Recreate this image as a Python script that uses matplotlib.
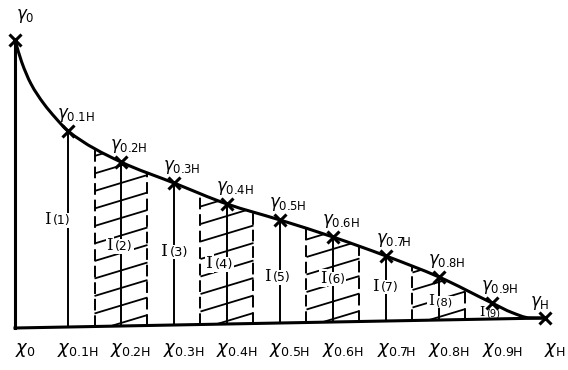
import numpy as np
import matplotlib
matplotlib.use("Agg")
import matplotlib.pyplot as plt
from matplotlib.path import Path
from matplotlib.patches import PathPatch
from matplotlib.collections import LineCollection
from matplotlib.transforms import Affine2D

plt.rcParams["mathtext.fontset"] = "dejavusans"

# Sections along the flow path (fraction of H) and their names
x_pos = [0.0, 0.1, 0.2, 0.3, 0.4, 0.5, 0.6, 0.7, 0.8, 0.9, 1.0]
x_names = ["0", "0.1H", "0.2H", "0.3H", "0.4H", "0.5H",
           "0.6H", "0.7H", "0.8H", "0.9H", "H"]
# Ordinate of the distribution curve at each section
gamma_vals = [288, 196, 164, 142, 120, 103, 85, 65, 43, 16, 0]

# Additional points on the steep head and the flat tail of the curve
head_x = [0.0125, 0.030, 0.054, 0.077]
head_y = [266, 244, 224, 209]
tail_x = [0.938, 0.97]
tail_y = [6, 0.5]

# Strip labels I(1) ... I(9)
strip_ids = ["(1)", "(2)", "(3)", "(4)", "(5)", "(6)", "(7)", "(8)", "(9)"]
strip_label_x = [0.070, 0.187, 0.290, 0.375, 0.485, 0.589, 0.689, 0.792, 0.887]
strip_label_y = [108, 81, 74, 61, 47, 44, 35, 19, 7]
strip_label_size = [12, 12, 12.5, 12.5, 12, 11.5, 12, 11, 9.5]
hatched_strips = [2, 4, 6, 8]

STEP = 0.1          # strip width
TILT = 10           # the base line rises slightly to the right
HATCH_SLOPE = 150
HATCH_GAP = 17.5
INK = "black"

fig = plt.figure(figsize=(5.68, 3.70), dpi=100)
ax = fig.add_axes([0, 0, 1, 1])
ax.set_xlim(-15 / 530, 553 / 530)
ax.set_ylim(-42, 328)
ax.axis("off")

tr = Affine2D(np.array([[1.0, 0.0, 0.0], [TILT, 1.0, 0.0], [0.0, 0.0, 1.0]])) + ax.transData


def monotone_slopes(x, y):
    x = np.asarray(x, float)
    y = np.asarray(y, float)
    h = np.diff(x)
    d = np.diff(y) / h
    m = np.zeros_like(y)
    m[0], m[-1] = d[0], d[-1]
    for i in range(1, len(y) - 1):
        if d[i - 1] * d[i] <= 0:
            m[i] = 0.0
        else:
            w1 = 2 * h[i] + h[i - 1]
            w2 = h[i] + 2 * h[i - 1]
            m[i] = (w1 + w2) / (w1 / d[i - 1] + w2 / d[i])
    return m


# curve nodes
nodes = sorted(zip(x_pos + head_x + tail_x, gamma_vals + head_y + tail_y))
cx = np.array([p[0] for p in nodes])
cy = np.array([p[1] for p in nodes])
slopes = monotone_slopes(cx, cy)

verts = [(cx[0], cy[0])]
codes = [Path.MOVETO]
for i in range(len(cx) - 1):
    dx = cx[i + 1] - cx[i]
    verts += [(cx[i] + dx / 3, cy[i] + slopes[i] * dx / 3),
              (cx[i + 1] - dx / 3, cy[i + 1] - slopes[i + 1] * dx / 3),
              (cx[i + 1], cy[i + 1])]
    codes += [Path.CURVE4] * 3
curve_path = Path(verts, codes)

# area under the curve, used to clip hatching and strip borders
area_path = Path(verts + [(cx[0], 0.0), (cx[0], cy[0])],
                 codes + [Path.LINETO, Path.CLOSEPOLY])
area = PathPatch(area_path, facecolor="none", edgecolor="none", transform=tr)
ax.add_patch(area)

# the curve itself
ax.add_patch(PathPatch(curve_path, facecolor="none", edgecolor=INK,
                       lw=2.2, transform=tr, zorder=6, capstyle="round"))

# base line and left axis
ax.plot([x_pos[0], x_pos[-1]], [0, 0], color=INK, lw=2.2, transform=tr, zorder=6)
ax.plot([x_pos[0], x_pos[0]], [0, gamma_vals[0]], color=INK, lw=2.2,
        transform=tr, zorder=6)

# ordinates at sections 0.1H ... 0.8H
for xv, gv in zip(x_pos[1:9], gamma_vals[1:9]):
    ax.plot([xv, xv], [0, gv], color=INK, lw=1.4, transform=tr, zorder=2)

# hatched strips with dashed borders
for k in hatched_strips:
    xl = (k - 0.5) * STEP
    xr = (k + 0.5) * STEP
    top = gamma_vals[k - 1] + 20
    for xb in (xl, xr):
        ln, = ax.plot([xb, xb], [0, top], color=INK, lw=1.4,
                      linestyle=(0, (6, 2.5)), transform=tr, zorder=2)
        ln.set_clip_path(area)
    offs = np.arange(-4.5, top, HATCH_GAP)
    segs = [[(xl, c), (xr, c + HATCH_SLOPE * STEP)] for c in offs]
    lc = LineCollection(segs, colors=INK, linewidths=1.3, transform=tr, zorder=2)
    ax.add_collection(lc)
    lc.set_clip_path(area)

# crosses on the curve
ax.plot(x_pos, gamma_vals, linestyle="none", marker="x", markersize=9,
        markeredgewidth=2.2, color=INK, transform=tr, zorder=7)

# curve ordinate labels
for i, (xv, gv, nm) in enumerate(zip(x_pos, gamma_vals, x_names)):
    if i == 0:
        off = (10, 24)
    elif i == len(x_pos) - 1:
        off = (-5, 15)
    else:
        off = (8, 16)
    ax.annotate(r"$\gamma_{\mathregular{%s}}$" % nm, (xv, gv), xycoords=tr,
                xytext=off, textcoords="offset pixels", ha="center",
                va="center", fontsize=12, color=INK, zorder=8)

# section labels below the base line
for xv, nm in zip(x_pos, x_names):
    ax.annotate(r"$\chi_{\mathregular{%s}}$" % nm, (xv, -22),
                xytext=(10, 0), textcoords="offset pixels", ha="center",
                va="center", fontsize=13, color=INK)

# strip labels
box = dict(facecolor="white", edgecolor="none", pad=0.6)
for sid, lx, ly, fs in zip(strip_ids, strip_label_x, strip_label_y, strip_label_size):
    ax.annotate("I", (lx, ly), xycoords=tr, xytext=(-1, 0),
                textcoords="offset pixels", ha="right", va="center",
                fontsize=fs, family="DejaVu Serif", color=INK,
                bbox=box, zorder=4)
    ax.annotate(sid, (lx, ly), xycoords=tr, xytext=(1, -1),
                textcoords="offset pixels", ha="left", va="center",
                fontsize=fs * 0.75, family="DejaVu Sans", color=INK,
                bbox=box, zorder=4)

fig.savefig("out.png", dpi=100, facecolor="white")
